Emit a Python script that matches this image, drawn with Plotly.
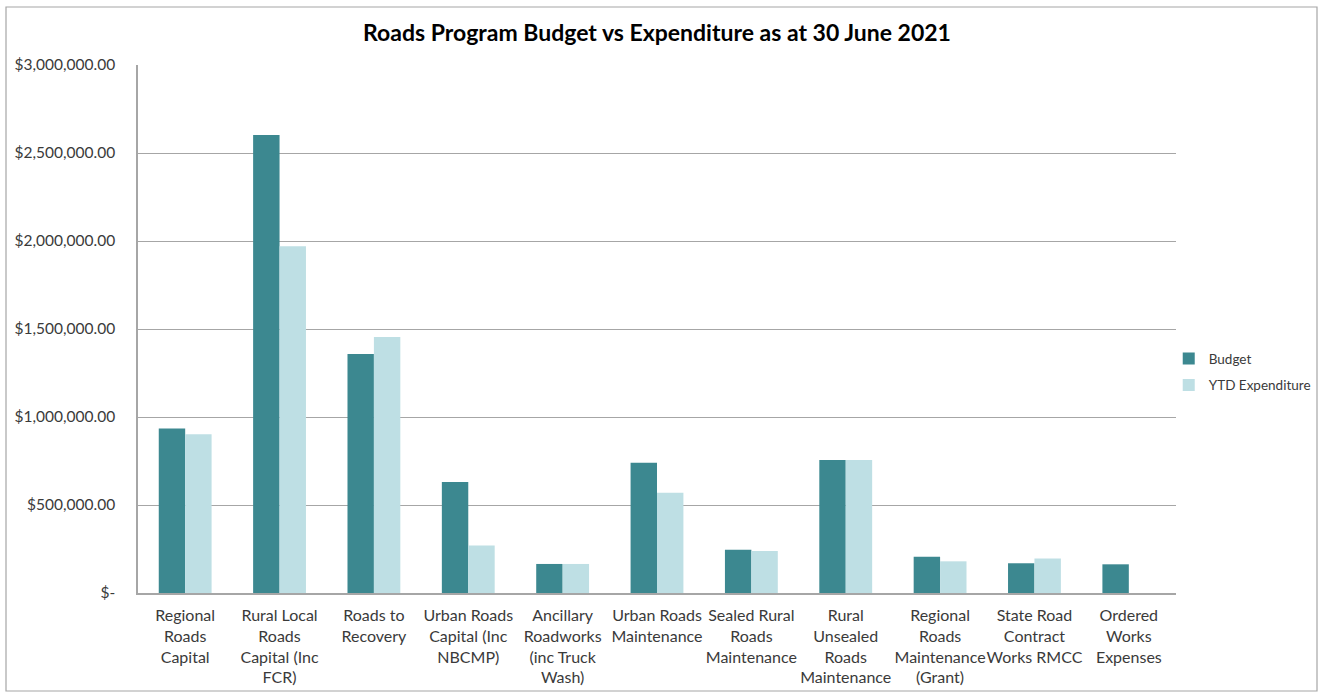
import plotly.graph_objects as go

categories = [
    "Regional<br>Roads<br>Capital",
    "Rural Local<br>Roads<br>Capital (Inc<br>FCR)",
    "Roads to<br>Recovery",
    "Urban Roads<br>Capital (Inc<br>NBCMP)",
    "Ancillary<br>Roadworks<br>(inc Truck<br>Wash)",
    "Urban Roads<br>Maintenance",
    "Sealed Rural<br>Roads<br>Maintenance",
    "Rural<br>Unsealed<br>Roads<br>Maintenance",
    "Regional<br>Roads<br>Maintenance<br>(Grant)",
    "State Road<br>Contract<br>Works RMCC",
    "Ordered<br>Works<br>Expenses",
]
budget = [935000, 2602000, 1358000, 630000, 165000, 740000, 246000, 756000, 206000, 169000, 163000]
ytd_expenditure = [902000, 1970000, 1455000, 270000, 165000, 570000, 239000, 756000, 180000, 196000, 0]

y_tickvals = [0, 500000, 1000000, 1500000, 2000000, 2500000, 3000000]
y_ticktext = ["$-", "$500,000.00", "$1,000,000.00", "$1,500,000.00",
              "$2,000,000.00", "$2,500,000.00", "$3,000,000.00"]

FONT = "Lato"
TEXT = "#3a3a3a"

fig = go.Figure()
fig.add_trace(go.Bar(name="Budget", x=categories, y=budget, legendgroup="a",
                     marker=dict(color="#3C8890", line=dict(width=0))))
fig.add_trace(go.Bar(name="YTD Expenditure", x=categories, y=ytd_expenditure, legendgroup="b",
                     marker=dict(color="#BEDFE4", line=dict(width=0))))

fig.update_layout(
    width=1324, height=693,
    margin=dict(l=138, r=148, t=65, b=100, autoexpand=False),
    paper_bgcolor="white", plot_bgcolor="white",
    barmode="group", bargap=0.44, bargroupgap=0,
    title=dict(text="<b>Roads Program Budget vs Expenditure as at 30 June 2021</b>",
               x=0.5, xref="paper", xanchor="center", y=0.952, yanchor="middle",
               font=dict(family=FONT, size=23, color="#000000")),
    font=dict(family=FONT, size=16, color=TEXT),
    legend=dict(x=0.993, xanchor="left", y=0.418, yanchor="middle",
                font=dict(family=FONT, size=13.5, color=TEXT),
                itemwidth=30, traceorder="grouped", tracegroupgap=6,
                bgcolor="rgba(0,0,0,0)"),
    showlegend=True,
)
fig.update_xaxes(showgrid=False, showline=True, linecolor="#A6A6A6", linewidth=1.5,
                 tickangle=0, ticks="", ticklabelstandoff=7,
                 tickfont=dict(family=FONT, size=16, color=TEXT))
fig.update_yaxes(range=[0, 3000000], tickvals=y_tickvals, ticktext=y_ticktext,
                 showgrid=True, gridcolor="#A6A6A6", gridwidth=1.3,
                 showline=True, linecolor="#A6A6A6", linewidth=1.5, zeroline=False,
                 ticks="", ticklabelstandoff=18,
                 tickfont=dict(family=FONT, size=15.5, color=TEXT))

# outer chart border
fig.add_shape(type="rect", xref="paper", yref="paper",
              x0=(6 - 138) / 1038, x1=(1317 - 138) / 1038,
              y0=(593 - 691) / 528, y1=(593 - 7) / 528,
              line=dict(color="#A6A6A6", width=1.2), fillcolor="rgba(0,0,0,0)", layer="below")

fig.write_html("out.html", config={"displayModeBar": False},
               post_script="document.body.style.margin='0px';")
